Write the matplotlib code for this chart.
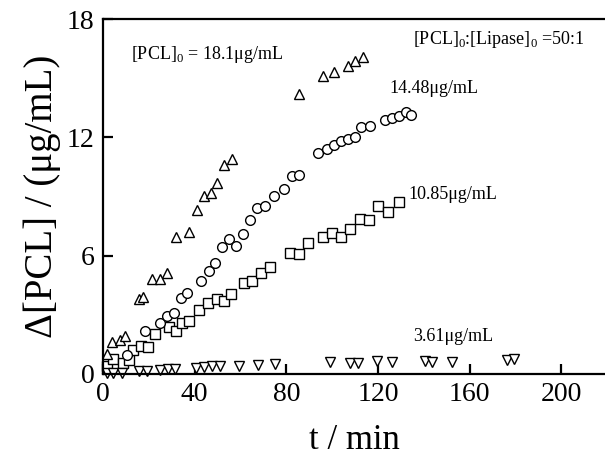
import matplotlib
matplotlib.use('Agg')
import matplotlib.pyplot as plt

plt.rcParams['font.family'] = ['Liberation Serif', 'DejaVu Serif']
plt.rcParams['mathtext.fontset'] = 'custom'
plt.rcParams['mathtext.rm'] = 'Liberation Serif'

# [PCL]0 = 18.1 ug/mL (up triangles)
t_181 = [1.6, 3.9, 7.4, 9.7, 15.6, 17.6, 21.5, 25, 28, 32, 37.6, 41, 44, 47.2,
         49.8, 53, 56.4, 85.6, 96, 101, 107, 110, 113.5]
v_181 = [1.0, 1.6, 1.7, 1.9, 3.8, 3.9, 4.8, 4.8, 5.1, 6.95, 7.2, 8.3, 9.0, 9.2,
         9.7, 10.6, 10.9, 14.2, 15.1, 15.3, 15.6, 15.85, 16.1]

# 14.48 ug/mL (circles)
t_1448 = [10.5, 18.3, 24.9, 27.9, 31, 34, 36.7, 42.8, 46.3, 49, 52, 55, 58.1, 61.1,
          64.2, 67.3, 70.7, 74.7, 79, 82.5, 85.6, 94, 97.8, 101, 104, 107, 110,
          112.7, 116.6, 123, 126, 129, 132, 134.5]
v_1448 = [0.96, 2.15, 2.6, 2.95, 3.1, 3.85, 4.1, 4.7, 5.2, 5.6, 6.45, 6.85, 6.5, 7.1,
          7.8, 8.4, 8.5, 9.0, 9.4, 10.05, 10.1, 11.2, 11.4, 11.6, 11.8, 11.9, 12.0,
          12.5, 12.6, 12.9, 13.0, 13.1, 13.3, 13.15]

# 10.85 ug/mL (squares)
t_1085 = [2.0, 4.5, 8.6, 11.5, 13.2, 16.6, 19.7, 22.7, 28.8, 31.9, 34.5, 37.6, 41.9,
          45.9, 49.8, 52.8, 56, 61.6, 65, 69, 72.9, 81.7, 85.6, 89.6, 96, 100, 104,
          108, 112, 116, 120, 124.5, 129]
v_1085 = [0.4, 0.75, 0.56, 0.7, 1.2, 1.42, 1.37, 2.0, 2.4, 2.15, 2.6, 2.7, 3.25,
          3.6, 3.8, 3.7, 4.05, 4.6, 4.7, 5.1, 5.4, 6.15, 6.1, 6.65, 6.95, 7.15, 6.95,
          7.35, 7.85, 7.8, 8.5, 8.2, 8.7]

# 3.61 ug/mL (down triangles)
t_361 = [1.7, 4.4, 8.5, 15.7, 19.2, 25, 28.5, 31.4, 40.6, 44, 47.6, 51, 59.4, 67.7,
         75, 99, 108, 111.4, 119.6, 126, 140.6, 143.7, 152.4, 176.4, 179.5]
v_361 = [0.05, 0.05, 0.05, 0.15, 0.15, 0.22, 0.25, 0.25, 0.3, 0.35, 0.38, 0.38, 0.42,
         0.45, 0.5, 0.6, 0.55, 0.55, 0.65, 0.6, 0.65, 0.6, 0.6, 0.7, 0.75]

fig = plt.figure(figsize=(6.05, 4.65), dpi=100)
ax = fig.add_axes([0.170, 0.196, 0.830, 0.763])

mk = dict(linestyle='none', markerfacecolor='white', markeredgecolor='black',
          markeredgewidth=1.0, markersize=7, clip_on=False)
ax.plot(t_1085, v_1085, marker='s', **mk)
ax.plot(t_1448, v_1448, marker='o', **mk)
ax.plot(t_361, v_361, marker='v', **mk)
ax.plot(t_181, v_181, marker='^', **mk)

ax.set_xlim(0, 219)
ax.set_ylim(0, 18)
ax.set_xticks([0, 40, 80, 120, 160, 200])
ax.set_yticks([0, 6, 12, 18])
ax.tick_params(direction='in', length=7, width=1.6, labelsize=20, pad=6)
for s in ['left', 'bottom', 'top']:
    ax.spines[s].set_linewidth(1.6)
ax.spines['right'].set_visible(False)

ax.set_xlabel('t / min', fontsize=25, labelpad=12)
ax.set_ylabel('Δ[PCL] / (μg/mL)', fontsize=28, labelpad=4)

fs = 13
ax.text(12.2, 16.2, r'[PCL]$_0$ = 18.1μg/mL', fontsize=fs, va='center')
ax.text(135.4, 16.95, r'[PCL]$_0$:[Lipase]$_0$ =50:1', fontsize=fs, va='center')
ax.text(124.9, 14.5, '14.48μg/mL', fontsize=fs, va='center')
ax.text(133.2, 9.1, '10.85μg/mL', fontsize=fs, va='center')
ax.text(135.4, 1.9, '3.61μg/mL', fontsize=fs, va='center')

fig.savefig('out.png', dpi=100)
